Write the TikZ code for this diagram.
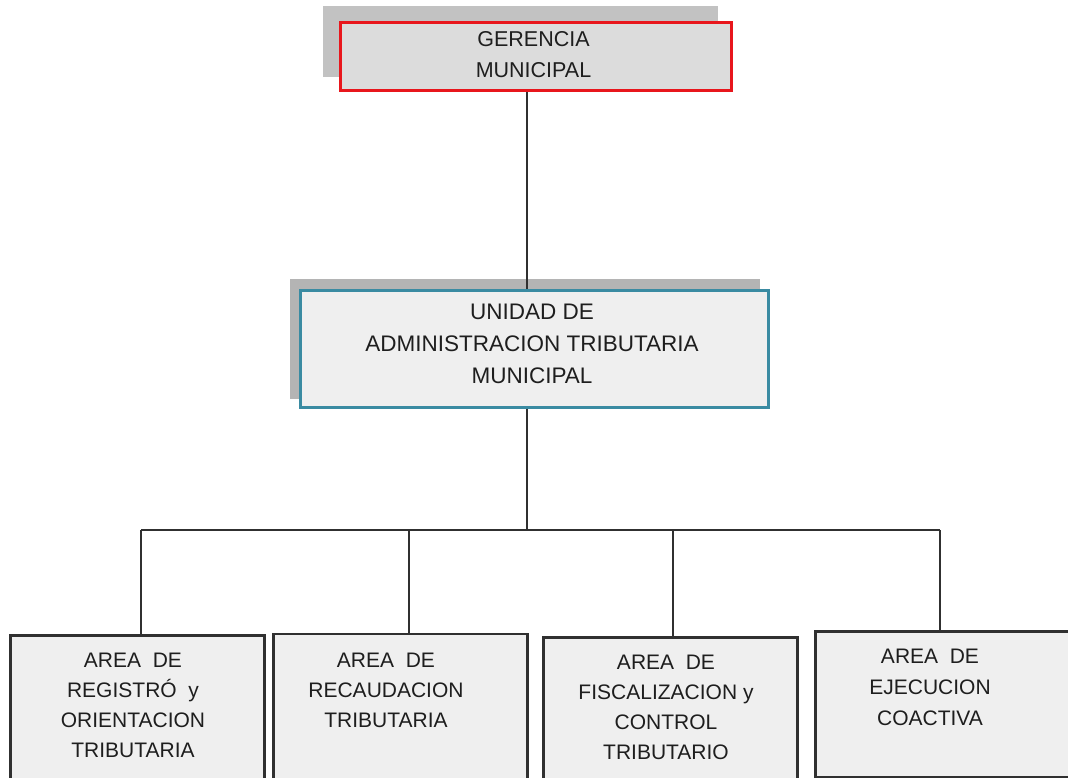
\documentclass[tikz,border=0pt]{standalone}
\usepackage{fontspec}
\setmainfont{Liberation Sans}
\definecolor{redb}{HTML}{E8161C}
\definecolor{tealb}{HTML}{3A8BA2}
\definecolor{fillA}{HTML}{DCDCDC}
\definecolor{fillB}{HTML}{EFEFEF}
\definecolor{shadA}{HTML}{C2C2C2}
\definecolor{shadB}{HTML}{B4B4B4}
\definecolor{linec}{HTML}{303030}
\definecolor{txt}{HTML}{1E1E1E}
\begin{document}
\begin{tikzpicture}[x=1pt,y=-1pt,
  shadowbox/.style={draw=none, inner sep=0pt, anchor=north west},
  areabox/.style={draw=linec, line width=2.6pt, fill=fillB, inner sep=0pt, anchor=north west, minimum width=254, minimum height=220},
  conn/.style={draw=linec, line width=1.5pt},
  arealbl/.style={align=center, inner sep=0pt, anchor=north, text=txt, font=\fontsize{21}{30}\selectfont}]
\useasboundingbox (0,0) rectangle (1068,778);
\clip (0,0) rectangle (1068,778);
\fill[white] (0,0) rectangle (1068,778);

% top box
\node[shadowbox, fill=shadA, minimum width=395, minimum height=71] (gmsh) at (323,6) {};
\node[draw=redb, line width=3pt, fill=fillA, anchor=north west, minimum width=391, minimum height=68, inner sep=0pt] (gm) at (338.5,21.5) {};
\node[align=center, inner sep=0pt, text=txt, font=\fontsize{21.5}{31}\selectfont] (gmt) at (533.5,55) {GERENCIA\\MUNICIPAL};

% middle box
\node[shadowbox, fill=shadB, minimum width=470, minimum height=120] (utsh) at (290,279) {};
\node[draw=tealb, line width=3pt, fill=fillB, anchor=north west, minimum width=468, minimum height=117, inner sep=0pt] (ut) at (298.5,288.5) {};
\node[align=center, inner sep=0pt, text=txt, font=\fontsize{22.5}{32}\selectfont] (utt) at (532,344) {UNIDAD DE\\ADMINISTRACION TRIBUTARIA\\MUNICIPAL};

% bottom boxes
\node[areabox] (b1) at (9.3,634) {};
\node[areabox] (b2) at (272.3,632.5) {};
\node[areabox] (b3) at (542.3,636) {};
\node[areabox, minimum height=146] (b4) at (814.3,630) {};

\node[arealbl] (t1) at (133,653) {AREA\ \ DE\\REGISTRÓ\ \ y\\ORIENTACION\\TRIBUTARIA};
\node[arealbl] (t2) at (386,653) {AREA\ \ DE\\RECAUDACION\\TRIBUTARIA};
\node[arealbl] (t3) at (666,655) {AREA\ \ DE\\FISCALIZACION y\\CONTROL\\TRIBUTARIO};
\node[arealbl, font=\fontsize{21}{31}\selectfont] (t4) at (930,649) {AREA\ \ DE\\EJECUCION\\COACTIVA};

% connectors
\coordinate (j) at (527,530);
\coordinate (d1) at (141,530);
\coordinate (d2) at (409,530);
\coordinate (d3) at (673,530);
\coordinate (d4) at (940,530);
\draw[conn] (j |- gm.south) -- (j |- ut.north);
\draw[conn] (j |- ut.south) -- (j);
\draw[conn] (d1) -- (d4);
\draw[conn] (d1) -- (d1 |- b1.north);
\draw[conn] (d2) -- (d2 |- b2.north);
\draw[conn] (d3) -- (d3 |- b3.north);
\draw[conn] (d4) -- (d4 |- b4.north);
\end{tikzpicture}
\end{document}
